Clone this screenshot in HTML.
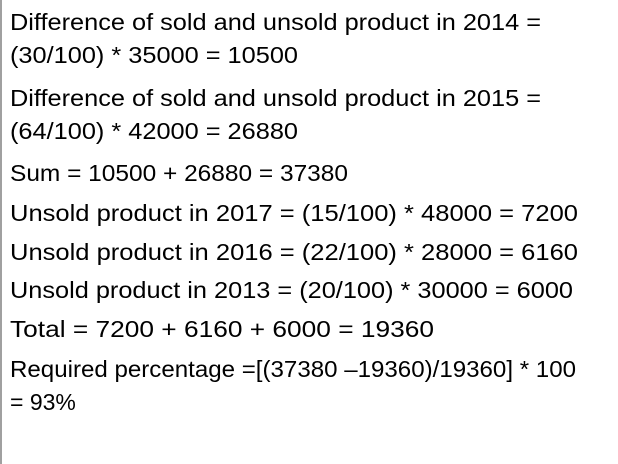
<!DOCTYPE html>
<html><head><meta charset="utf-8"><style>
html,body{margin:0;padding:0;background:#fff;}
#wrap{position:relative;width:618px;height:464px;overflow:hidden;background:#fff;}
#bar{position:absolute;left:0;top:0;width:2px;height:464px;background:#a0a0a0;}
text{font-family:"Liberation Sans",sans-serif;font-size:23px;fill:#000;}
</style></head><body>
<div id="wrap">
<div id="bar"></div>
<svg width="618" height="464">
<text x="10" y="30" textLength="531" lengthAdjust="spacingAndGlyphs">Difference of sold and unsold product in 2014 =</text>
<text x="10" y="63" textLength="288" lengthAdjust="spacingAndGlyphs">(30/100) * 35000 = 10500</text>
<text x="10" y="106" textLength="531" lengthAdjust="spacingAndGlyphs">Difference of sold and unsold product in 2015 =</text>
<text x="10" y="139" textLength="288" lengthAdjust="spacingAndGlyphs">(64/100) * 42000 = 26880</text>
<text x="10" y="181" textLength="338" lengthAdjust="spacingAndGlyphs">Sum = 10500 + 26880 = 37380</text>
<text x="10" y="221" textLength="568" lengthAdjust="spacingAndGlyphs">Unsold product in 2017 = (15/100) * 48000 = 7200</text>
<text x="10" y="260" textLength="568" lengthAdjust="spacingAndGlyphs">Unsold product in 2016 = (22/100) * 28000 = 6160</text>
<text x="10" y="298" textLength="563" lengthAdjust="spacingAndGlyphs">Unsold product in 2013 = (20/100) * 30000 = 6000</text>
<text x="10" y="337" textLength="424" lengthAdjust="spacingAndGlyphs">Total = 7200 + 6160 + 6000 = 19360</text>
<text x="10" y="377" textLength="566" lengthAdjust="spacingAndGlyphs">Required percentage =[(37380 –19360)/19360] * 100</text>
<text x="10" y="410">= 93%</text>
</svg>
</div>
</body></html>
